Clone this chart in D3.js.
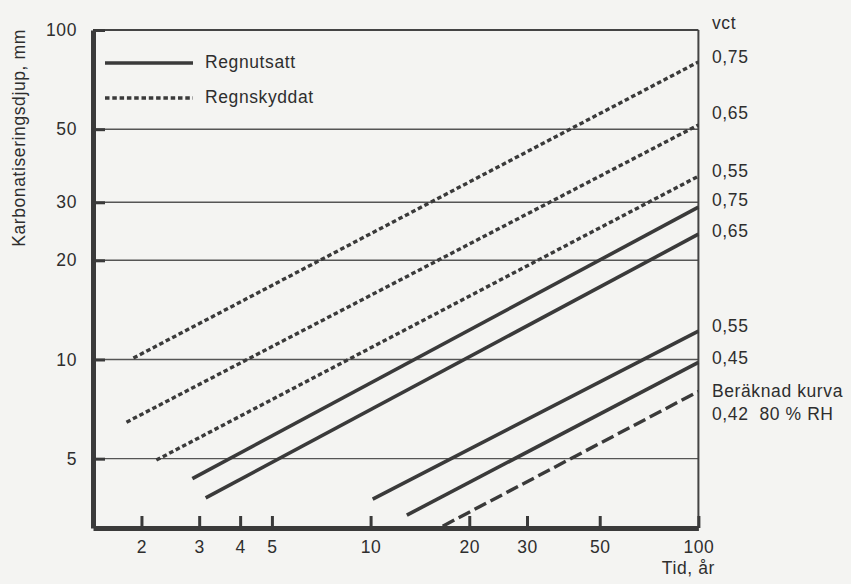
<!DOCTYPE html>
<html>
<head>
  <meta charset="utf-8">
  <script src="https://d3js.org/d3.v7.min.js"></script>
  <style>
    body { margin: 0; background: #f4f4f2; }
    svg { display: block; }
    text { font-family: "Liberation Sans", Arial, sans-serif; font-size: 17.5px; fill: #2e2e2e; letter-spacing: 0.6px; }
  </style>
</head>
<body>
  <svg width="851" height="584"></svg>

  <script>
    // tick values (log axes)
    const xTicks = [2, 3, 4, 5, 10, 20, 30, 50, 100];
    const yTicks = [5, 10, 20, 30, 50, 100];
    const gridDepths = [5, 10, 20, 30, 50];

    // one straight line per curve, start and end point
    const vct        = ["0,75", "0,65", "0,55", "0,75", "0,65", "0,55", "0,45", "0,42"];
    const exposure   = ["skyddat", "skyddat", "skyddat", "utsatt", "utsatt", "utsatt", "utsatt", "beraknad"];
    const startYear  = [1.89, 1.80, 2.22, 2.86, 3.14, 10.15, 12.9, 16.6];
    const startDepth = [10.1, 6.45, 4.95, 4.35, 3.8, 3.77, 3.37, 3.12];
    const endYear    = [100, 100, 100, 100, 100, 100, 100, 100];
    const endDepth   = [80, 51.5, 36, 29, 24, 12.2, 9.8, 8.0];

    // label nudges (px) relative to the line end
    const labelNudge = [-5, -12, -5, -7, -3, -5, -4, 0];

    const legendNames = ["Regnutsatt", "Regnskyddat"];

    const svg = d3.select("svg");
    const ink = "#3a3a3a";

    const x = d3.scaleLog().domain([1.423, 100]).range([93, 698.4]);
    const y = d3.scaleLog().domain([3.08, 100]).range([528, 30]);

    const dash = { utsatt: null, skyddat: "4.5,2.8", beraknad: "13,5" };

    // horizontal grid
    svg.append("g").selectAll("line")
      .data(gridDepths)
      .enter().append("line")
      .attr("x1", x.range()[0]).attr("x2", x.range()[1])
      .attr("y1", d => y(d)).attr("y2", d => y(d))
      .attr("stroke", "#555").attr("stroke-width", 1.4);

    // top border and right axis
    svg.append("line")
      .attr("x1", x.range()[0]).attr("x2", x.range()[1])
      .attr("y1", y(100)).attr("y2", y(100))
      .attr("stroke", "#444").attr("stroke-width", 2);
    svg.append("line")
      .attr("x1", x(100)).attr("x2", x(100))
      .attr("y1", y(100)).attr("y2", y.range()[0])
      .attr("stroke", "#444").attr("stroke-width", 2);

    // curves
    const lineData = vct.map((v, i) => ({
      kind: exposure[i],
      pts: [[startYear[i], startDepth[i]], [endYear[i], endDepth[i]]]
    }));
    const lineGen = d3.line().x(d => x(d[0])).y(d => y(d[1]));

    svg.append("g").selectAll("path")
      .data(lineData)
      .enter().append("path")
      .attr("d", d => lineGen(d.pts))
      .attr("fill", "none")
      .attr("stroke", ink)
      .attr("stroke-width", d => d.kind === "utsatt" ? 3.6 : 3.4)
      .attr("stroke-dasharray", d => dash[d.kind]);

    // x axis
    const xAxis = svg.append("g")
      .attr("transform", `translate(0,${y.range()[0]})`)
      .call(d3.axisBottom(x).tickValues(xTicks).tickFormat(d3.format("d"))
        .tickSize(-12).tickSizeOuter(0).tickPadding(13));
    xAxis.select(".domain").attr("stroke", ink).attr("stroke-width", 5);
    xAxis.selectAll(".tick line").attr("stroke", ink).attr("stroke-width", 3);
    xAxis.selectAll(".tick text").attr("font-size", null).attr("font-family", null).attr("fill", null);
    xAxis.attr("font-size", null).attr("font-family", null);

    // y axis
    const yAxis = svg.append("g")
      .attr("transform", `translate(${x.range()[0]},0)`)
      .call(d3.axisLeft(y).tickValues(yTicks).tickFormat(d3.format("d"))
        .tickSize(-12).tickSizeOuter(0).tickPadding(16));
    yAxis.select(".domain").attr("stroke", ink).attr("stroke-width", 5);
    yAxis.selectAll(".tick line").attr("stroke", ink).attr("stroke-width", 3);
    yAxis.attr("font-size", null).attr("font-family", null);

    // axis titles
    svg.append("text")
      .attr("transform", "translate(19,138) rotate(-90)")
      .attr("text-anchor", "middle")
      .attr("dominant-baseline", "central")
      .text("Karbonatiseringsdjup, mm");

    svg.append("text")
      .attr("x", 715).attr("y", 568)
      .attr("text-anchor", "end")
      .attr("dominant-baseline", "central")
      .text("Tid, år");

    // right-hand labels
    svg.append("text")
      .attr("x", 712).attr("y", 23)
      .attr("dominant-baseline", "central")
      .text("vct");

    svg.append("g").selectAll("text")
      .data(lineData)
      .enter().append("text")
      .attr("x", 712)
      .attr("y", (d, i) => y(endDepth[i]) + labelNudge[i])
      .attr("dominant-baseline", "central")
      .text((d, i) => d.kind === "beraknad" ? "Beräknad kurva" : vct[i]);

    svg.append("text")
      .attr("x", 712)
      .attr("y", y(endDepth[7]) + 23)
      .attr("dominant-baseline", "central")
      .attr("xml:space", "preserve")
      .text(vct[7] + "  80 % RH");

    // legend
    const legend = svg.append("g").attr("transform", "translate(105,62)");
    legendNames.forEach((name, i) => {
      legend.append("line")
        .attr("x1", 0).attr("x2", 88)
        .attr("y1", i * 35 + 1).attr("y2", i * 35 + 1)
        .attr("stroke", ink).attr("stroke-width", 3.6)
        .attr("stroke-dasharray", i === 0 ? null : dash.skyddat);
      legend.append("text")
        .attr("x", 100).attr("y", i * 35)
        .attr("dominant-baseline", "central")
        .text(name);
    });
  </script>
</body>
</html>
